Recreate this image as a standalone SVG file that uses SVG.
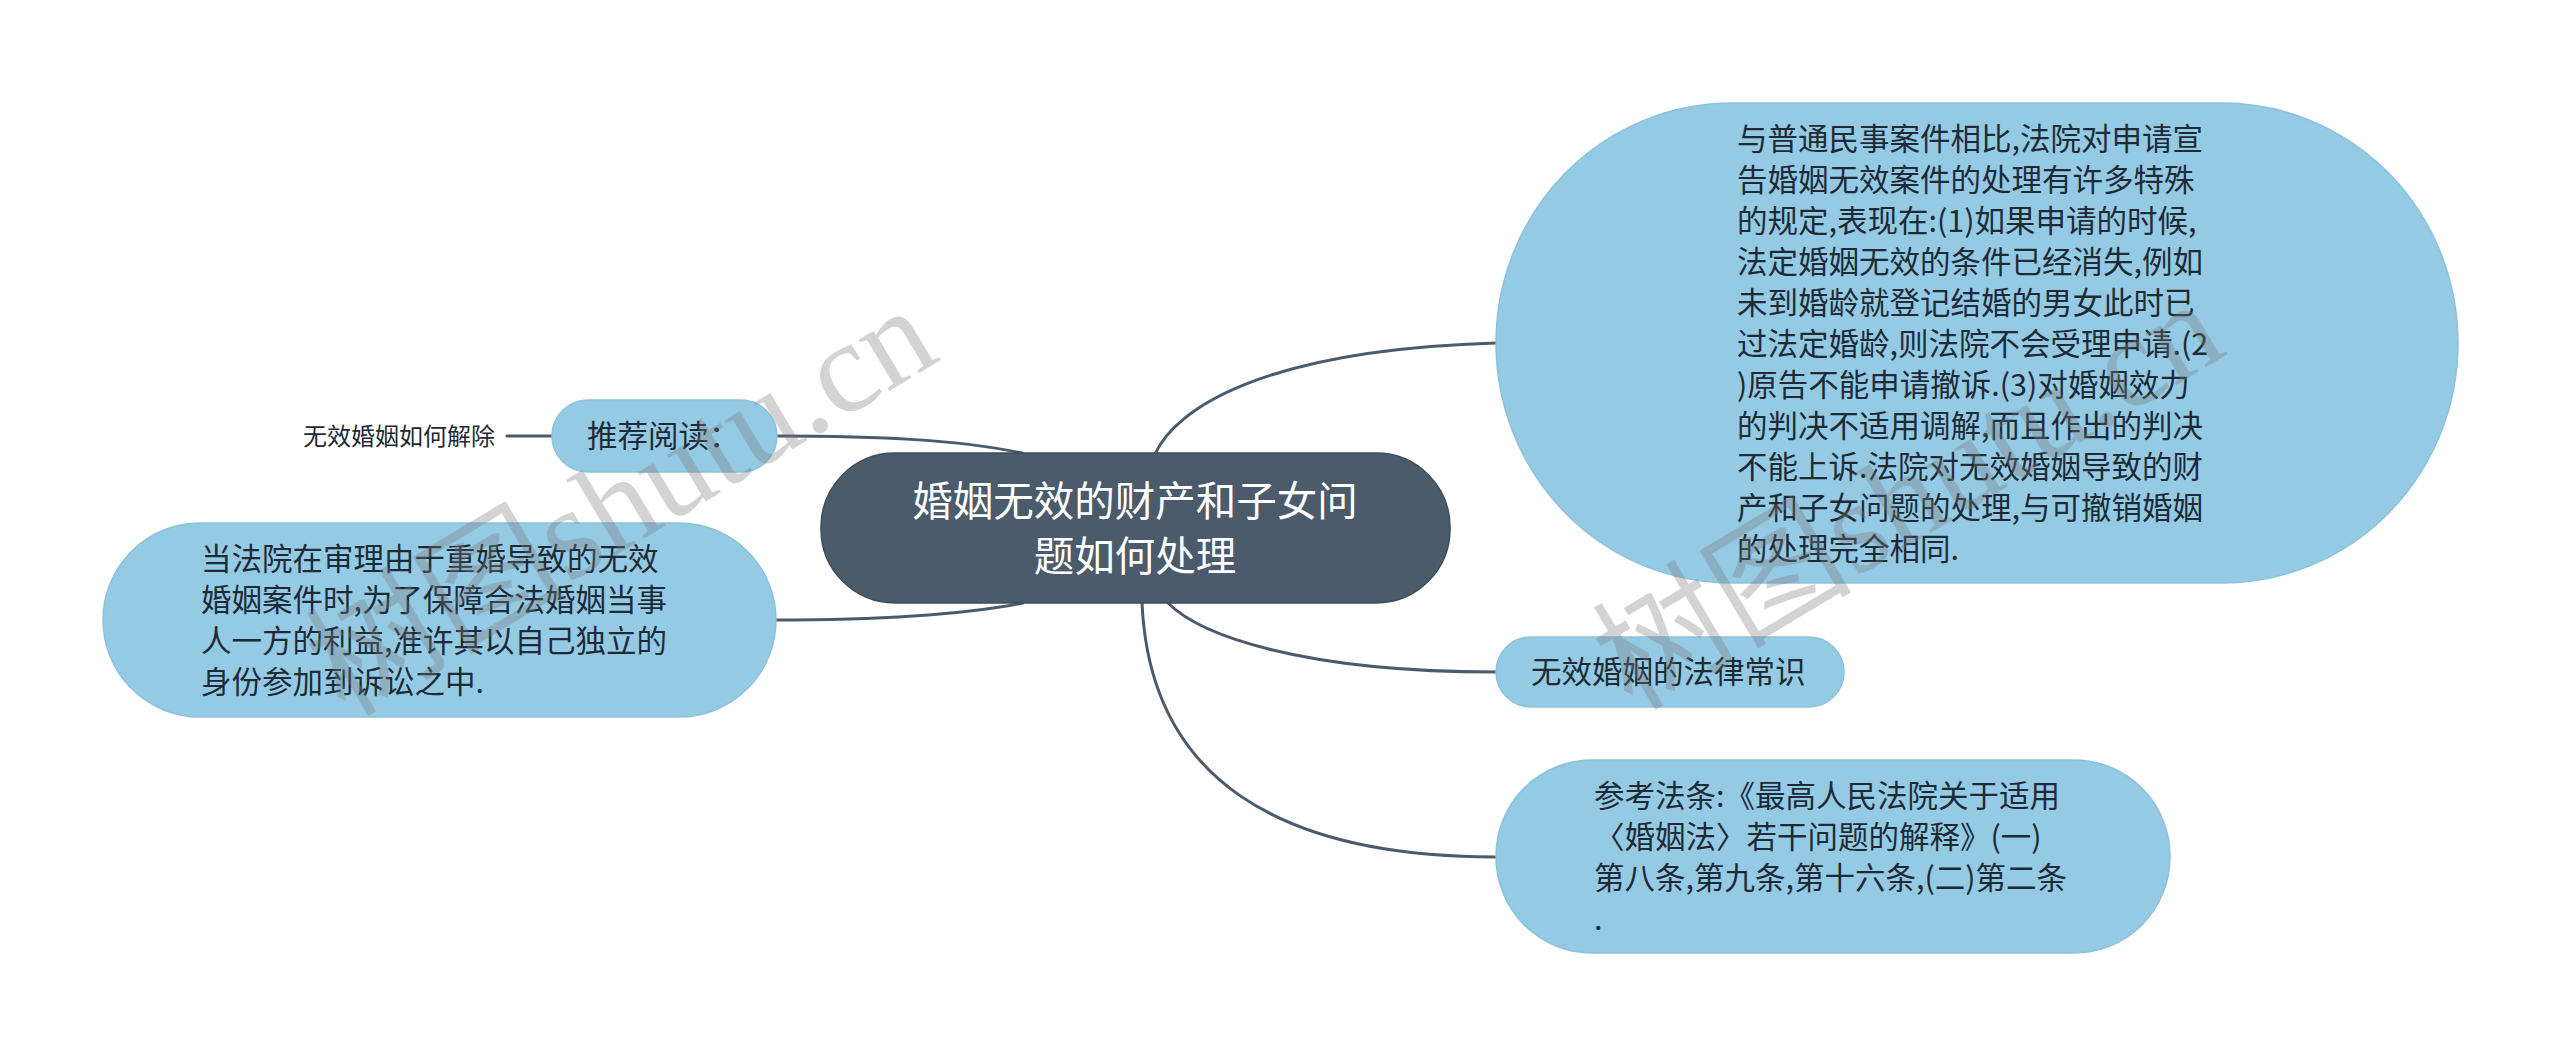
<svg xmlns="http://www.w3.org/2000/svg" width="2560" height="1057" viewBox="0 0 2560 1057">
<style>
.conn{fill:none;stroke:#4b5b6b;stroke-width:3;stroke-linecap:round}
.child{fill:#94cae3;stroke:#8cc2db;stroke-width:1.5}
.root{fill:#4b5b6b;stroke:#3e4d5c;stroke-width:1.5}
.t{font-family:"Noto Sans CJK SC","Noto Sans",sans-serif;font-size:30.5px;fill:#1e2a36}
.rt{font-family:"Noto Sans CJK SC","Noto Sans",sans-serif;font-size:40.5px;fill:#ffffff;text-anchor:middle}
.plain{font-family:"Noto Sans CJK SC","Noto Sans",sans-serif;font-size:24px;fill:#1e2a36}
.wm{font-family:"Liberation Serif","Noto Sans CJK SC",serif;font-size:130px;fill:#7a7a7a;fill-opacity:0.33}
</style>
<rect width="2560" height="1057" fill="#ffffff"/>
<g id="connectors">
<path class="conn" d="M1155,454 C1175,410 1260,350 1496,343"/>
<path class="conn" d="M1168,603 C1200,635 1300,672 1496,672"/>
<path class="conn" d="M1142,603 C1150,780 1280,857 1496,857"/>
<path class="conn" d="M777,436 C880,436 960,440 1022,453"/>
<path class="conn" d="M777,620 C880,620 960,615 1023,603"/>
<path class="conn" d="M507,436 L552,436"/>
</g>
<g id="root">
<rect class="root" x="821" y="453" width="629" height="150" rx="74" ry="74"/>
<text class="rt" x="1135" y="516">婚姻无效的财产和子女问</text>
<text class="rt" x="1135" y="571">题如何处理</text>
</g>
<g id="node-big">
<rect class="child" x="1496" y="103" width="962" height="480" rx="236" ry="240"/>
<text class="t" x="1737"><tspan x="1737" y="150">与普通民事案件相比,法院对申请宣</tspan><tspan x="1737" y="191">告婚姻无效案件的处理有许多特殊</tspan><tspan x="1737" y="232">的规定,表现在:(1)如果申请的时候,</tspan><tspan x="1737" y="273">法定婚姻无效的条件已经消失,例如</tspan><tspan x="1737" y="314">未到婚龄就登记结婚的男女此时已</tspan><tspan x="1737" y="355">过法定婚龄,则法院不会受理申请.(2</tspan><tspan x="1737" y="396">)原告不能申请撤诉.(3)对婚姻效力</tspan><tspan x="1737" y="437">的判决不适用调解,而且作出的判决</tspan><tspan x="1737" y="478">不能上诉.法院对无效婚姻导致的财</tspan><tspan x="1737" y="519">产和子女问题的处理,与可撤销婚姻</tspan><tspan x="1737" y="560">的处理完全相同.</tspan></text>
</g>
<g id="node-common">
<rect class="child" x="1496" y="637" width="348" height="70" rx="35" ry="35"/>
<text class="t" x="1531" y="683">无效婚姻的法律常识</text>
</g>
<g id="node-ref">
<rect class="child" x="1496" y="760" width="674" height="193" rx="96" ry="96"/>
<text class="t"><tspan x="1594" y="807">参考法条:《最高人民法院关于适用</tspan><tspan x="1594" y="848">〈婚姻法〉若干问题的解释》(一)</tspan><tspan x="1594" y="889">第八条,第九条,第十六条,(二)第二条</tspan><tspan x="1594" y="930">.</tspan></text>
</g>
<g id="node-left">
<rect class="child" x="103" y="523" width="673" height="194" rx="97" ry="97"/>
<text class="t"><tspan x="201" y="570">当法院在审理由于重婚导致的无效</tspan><tspan x="201" y="611">婚姻案件时,为了保障合法婚姻当事</tspan><tspan x="201" y="652">人一方的利益,准许其以自己独立的</tspan><tspan x="201" y="693">身份参加到诉讼之中.</tspan></text>
</g>
<g id="node-recommend">
<rect class="child" x="552" y="400" width="225" height="72" rx="36" ry="36"/>
<text class="t" x="587" y="447">推荐阅读：</text>
</g>
<g id="node-link">
<text class="plain" x="303" y="445">无效婚姻如何解除</text>
</g>
<g id="watermark">
<text class="wm" transform="translate(345 718) rotate(-31)">树图shutu.cn</text>
<text class="wm" transform="translate(1632 712) rotate(-31)">树图shutu.cn</text>
</g>
</svg>
